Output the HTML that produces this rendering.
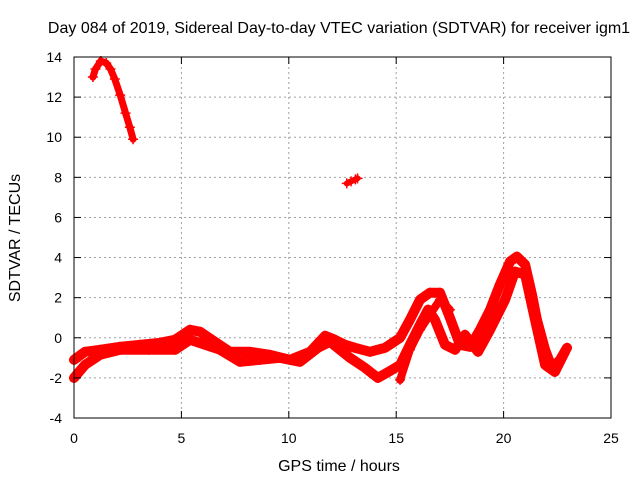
<!DOCTYPE html>
<html><head><meta charset="utf-8"><style>
body{margin:0;background:#fff}
svg{display:block;font-family:"Liberation Sans",sans-serif}
</style></head><body>
<svg id="chart" width="640" height="480" viewBox="0 0 640 480">
<rect width="640" height="480" fill="#fff"/>
<text x="339" y="33" font-size="16" text-anchor="middle">Day 084 of 2019, Sidereal Day-to-day VTEC variation (SDTVAR) for receiver igm1</text>
<g id="grid"></g>
<g id="series"></g>
<rect x="74" y="57" width="537" height="361" fill="none" stroke="#000" stroke-width="1"/>
<g id="ticks"></g>
<text x="339" y="471" font-size="16" text-anchor="middle">GPS time / hours</text>
<text x="20" y="238" font-size="16" text-anchor="middle" transform="rotate(-90 20 238)">SDTVAR / TECUs</text>
</svg>
<script>
const xTicks=[0,5,10,15,20,25];
const yTicks=[-4,-2,0,2,4,6,8,10,12,14];
const arcT=[0.88,1.0,1.25,1.5,1.7,1.9,2.15,2.4,2.6,2.75];
const arcV=[13.0,13.4,13.8,13.7,13.4,12.9,12.1,11.2,10.5,9.9];
const blobT=[12.7,12.9,13.1,13.2];
const blobV=[7.7,7.8,7.9,7.95];
const upT=[0,0.51,1.21,2.14,3.07,4.0,4.7,5.4,5.87,6.56,7.26,8.19,9.12,10.06,10.99,11.69,12.15,12.62,13.08,13.78,14.48,15.18,15.64,16.11,16.57,17.04,17.5,17.97,18.44,18.9,19.37,19.83,20.3,20.62,21.0,21.32,21.55,21.93,22.25,22.63,22.95];
const upV=[-1.1,-0.7,-0.6,-0.45,-0.35,-0.25,-0.1,0.4,0.3,-0.2,-0.7,-0.7,-0.85,-1.1,-0.7,0.1,-0.1,-0.35,-0.5,-0.7,-0.5,0,0.9,1.9,2.25,2.25,1.0,-0.35,-0.45,0.4,1.4,2.65,3.8,4.05,3.65,2.15,0.9,-0.6,-1.5,-1.1,-0.5];
const loT=[0,0.51,1.21,2.14,3.49,4.7,5.4,6.1,6.8,7.73,8.66,9.59,10.52,11.36,11.92,12.85,13.55,14.15,14.8,15.18,15.64,16.11,16.48,16.8,17.27,17.74,18.2,18.81,19.37,20.07,20.53,21.0,21.46,21.93,22.39,22.86];
const loV=[-2.0,-1.35,-0.85,-0.6,-0.6,-0.6,-0.1,-0.35,-0.6,-1.2,-1.1,-1.0,-1.2,-0.5,-0.2,-1.0,-1.5,-2.0,-1.6,-1.35,-0.35,0.65,1.4,0.9,-0.35,-0.6,0.15,-0.7,0.4,1.9,3.3,3.15,0.9,-1.35,-1.7,-0.7];
const brT=[15.18,15.64,16.11,16.57,17.04,17.5];
const brV=[-2.1,-0.6,0.4,1.15,1.9,1.4];
const X=t=>74+t*537/25, Y=v=>418-(v+4)*361/18;
const ns="http://www.w3.org/2000/svg";
const grid=document.getElementById('grid'),ticks=document.getElementById('ticks'),ser=document.getElementById('series');
function mk(tag,attrs,parent){const e=document.createElementNS(ns,tag);for(const k in attrs)e.setAttribute(k,attrs[k]);parent.appendChild(e);return e;}
xTicks.forEach(t=>{const x=X(t);
 if(t>0&&t<25){const g=mk('line',{x1:x,x2:x,y1:57,y2:418,stroke:'#a0a0a0','stroke-dasharray':'2,3'},grid);
 
 }
 const a=mk('line',{x1:x,x2:x,y1:418,y2:411,stroke:'#000'},ticks);
 
 
 const b=mk('line',{x1:x,x2:x,y1:57,y2:64,stroke:'#000'},ticks);
 
 
 const l=mk('text',{x:x,y:443,'font-size':14,'text-anchor':'middle'},ticks);l.textContent=t;
 
 });
yTicks.forEach(v=>{const y=Y(v);
 if(v>-4&&v<14){const g=mk('line',{x1:74,x2:611,y1:y,y2:y,stroke:'#a0a0a0','stroke-dasharray':'2,3'},grid);
 
 }
 const a=mk('line',{x1:74,x2:81,y1:y,y2:y,stroke:'#000'},ticks);
 
 
 const b=mk('line',{x1:604,x2:611,y1:y,y2:y,stroke:'#000'},ticks);
 
 
 const l=mk('text',{x:62,y:y+5,'font-size':14,'text-anchor':'end'},ticks);l.textContent=v;
 
 });
function track(T,V,name,w){
 const pts=T.map((t,i)=>X(t).toFixed(1)+','+Y(V[i]).toFixed(1)).join(' ');
 const p=mk('polyline',{points:pts,fill:'none',stroke:'#ff0000','stroke-width':w,'stroke-linejoin':'round','stroke-linecap':'round'},ser);
 
 
 T.forEach((t,i)=>{const x=X(t),y=Y(V[i]);
  const m=mk('path',{d:`M${x-5},${y}h10M${x},${y-5}v10`,stroke:'#ff0000','stroke-width':1.5},ser);
  
  });
}
track(arcT,arcV,'arc-track',7);
track(blobT,blobV,'blob-track',6);
track(upT,upV,'upper-track',10);
track(loT,loV,'lower-track',10);
track(brT,brV,'branch-track',8);
</script>
</body></html>
